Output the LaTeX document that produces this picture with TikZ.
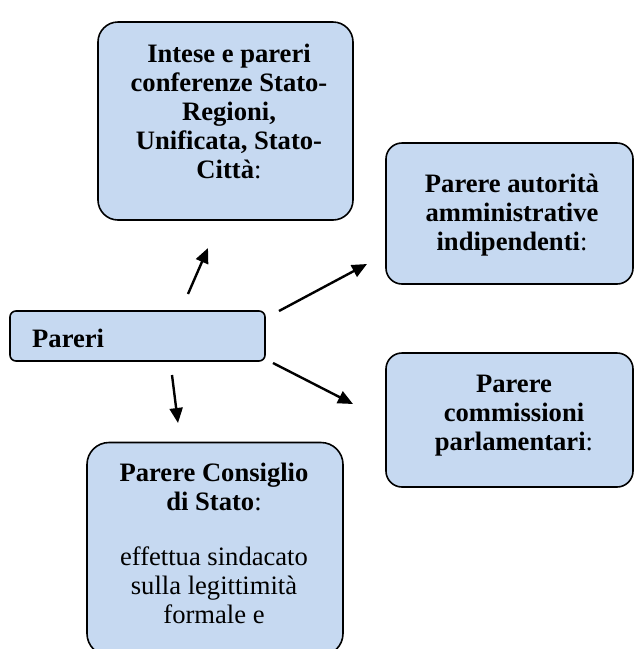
\documentclass[tikz,border=0pt]{standalone}
\usepackage{fontspec}
\setmainfont{Liberation Serif}
\usetikzlibrary{arrows.meta}
\definecolor{boxblue}{RGB}{198,217,241}
\tikzset{
  card/.style={draw=black, line width=1.6pt, fill=boxblue, inner sep=0pt},
  lbl/.style={align=center, inner sep=0pt, font=\fontsize{26.6}{29}\selectfont},
  link/.style={line width=2.4pt, -{Triangle[length=15pt,width=13pt]}}
}
\begin{document}
\begin{tikzpicture}[x=1pt,y=-1pt]
\useasboundingbox (0,0) rectangle (635,649);
\clip (0,0) rectangle (635,649);

% boxes
\node[card, rounded corners=20pt, minimum width=255pt, minimum height=198pt] (conf) at (225.5,121) {};
\node[card, rounded corners=6pt, minimum width=255pt, minimum height=50pt] (pareri) at (137.5,336) {};
\node[card, rounded corners=16pt, minimum width=247pt, minimum height=141pt] (auth) at (509.5,213.5) {};
\node[card, rounded corners=16pt, minimum width=247pt, minimum height=134pt] (comm) at (509.5,420) {};
\node[card, rounded corners=22pt, minimum width=256pt, minimum height=213pt] (cds) at (215,549) {};

% texts (base anchor = baseline of the last line)
\node[lbl, anchor=base] (conftxt) at (229,178)
  {\textbf{Intese e pareri}\\\textbf{conferenze Stato-}\\\textbf{Regioni,}\\\textbf{Unificata, Stato-}\\\textbf{Città}:};
\node[lbl, anchor=base west] (parertxt) at (32,347) {\textbf{Pareri}};
\node[lbl, anchor=base] (authtxt) at (512,250)
  {\textbf{Parere autorità}\\\textbf{amministrative}\\\textbf{indipendenti}:};
\node[lbl, anchor=base] (commtxt) at (514,450)
  {\textbf{Parere}\\\textbf{commissioni}\\\textbf{parlamentari}:};
\node[lbl, anchor=base] (cdstxt) at (214,623)
  {\textbf{Parere Consiglio}\\\textbf{di Stato}:\\[26pt]effettua sindacato\\sulla legittimità\\formale e};

% arrow ends
\coordinate (up0) at (188,294);
\coordinate (up1) at (208,248);
\coordinate (ne0) at (279,311);
\coordinate (ne1) at (367,264);
\coordinate (se0) at (273,363);
\coordinate (se1) at (353,404);
\coordinate (dn0) at (172,375);
\coordinate (dn1) at (178,423);

\draw[link] (up0) -- (up1);
\draw[link] (ne0) -- (ne1);
\draw[link] (se0) -- (se1);
\draw[link] (dn0) -- (dn1);
\end{tikzpicture}
\end{document}
